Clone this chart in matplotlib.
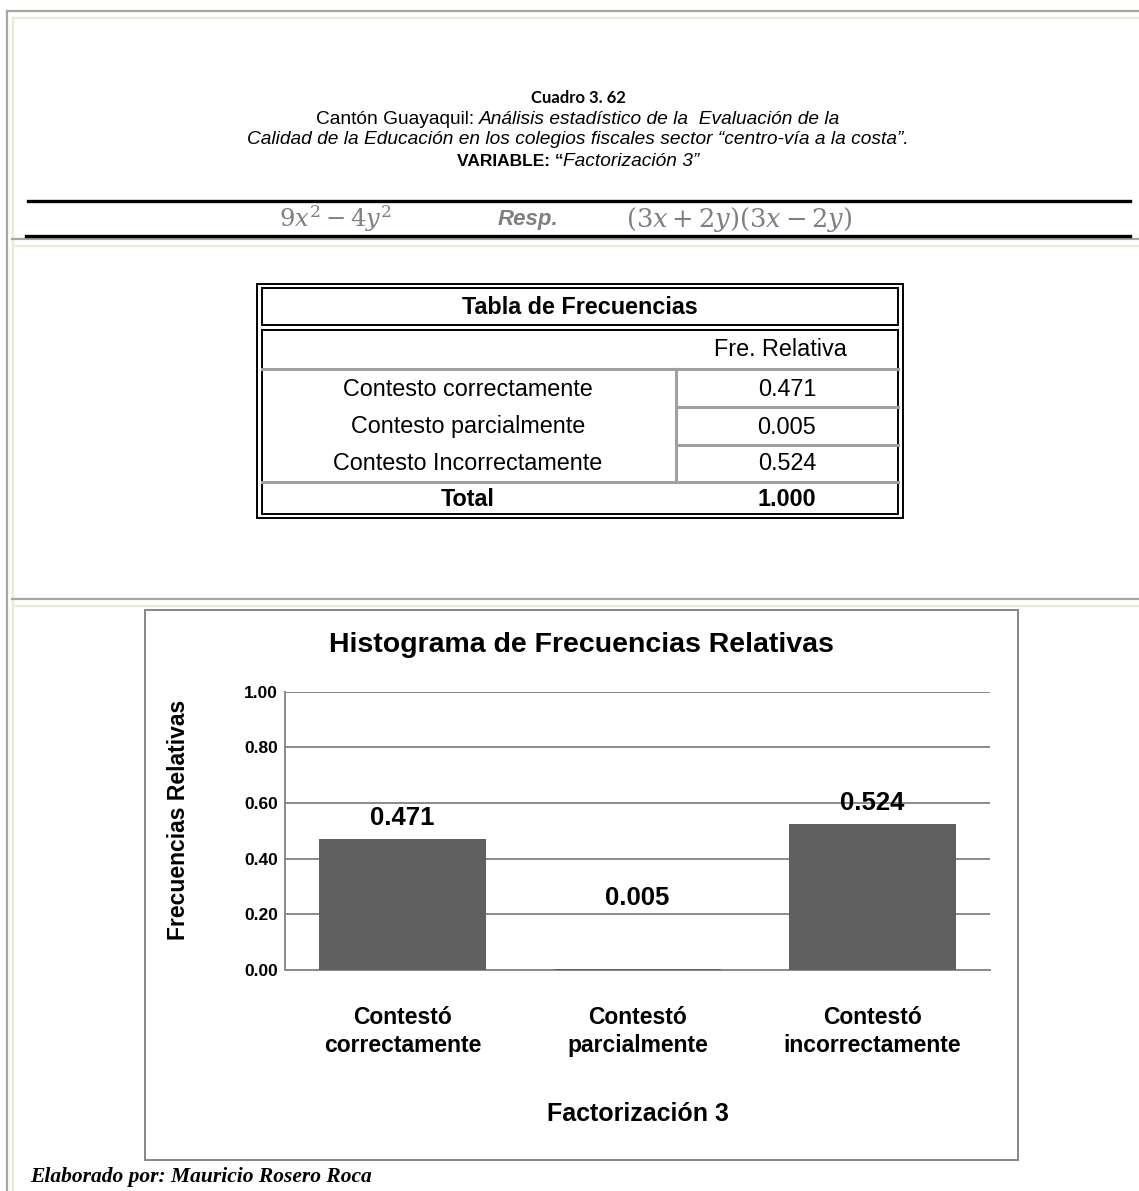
import matplotlib
matplotlib.use('Agg')
import matplotlib.pyplot as plt

# Data
categories = ['Contestó\ncorrectamente', 'Contestó\nparcialmente', 'Contestó\nincorrectamente']
values = [0.471, 0.005, 0.524]
table_labels = ['Contesto correctamente', 'Contesto parcialmente', 'Contesto Incorrectamente']
table_values = [0.471, 0.005, 0.524]
table_total = 1.000
y_ticks = [0.0, 0.2, 0.4, 0.6, 0.8, 1.0]

W, H = 1139, 1191
plt.rcParams['font.family'] = ['Liberation Sans', 'DejaVu Sans']
plt.rcParams['mathtext.fontset'] = 'dejavuserif'

fig = plt.figure(figsize=(W / 100, H / 100), dpi=100)
page = fig.add_axes([0, 0, 1, 1])
page.set_xlim(0, W)
page.set_ylim(H, 0)
page.axis('off')

FRAME_GRAY = '#a9a799'
FRAME_BEIGE = '#ece9d8'


def runs(x_center, y, parts, size):
    # draw a line made of several styled pieces, centred on x_center
    renderer = fig.canvas.get_renderer()
    texts = []
    for s, kw in parts:
        opts = {'fontsize': size, 'va': 'center', 'ha': 'left'}
        opts.update(kw)
        t = page.text(0, y, s, **opts)
        texts.append(t)
    widths = [t.get_window_extent(renderer).width for t in texts]
    x = x_center - sum(widths) / 2
    for t, w in zip(texts, widths):
        t.set_x(x)
        x += w


# page frame
page.plot([7, 7], [11, H], color=FRAME_GRAY, lw=1.6)
page.plot([7, W], [11, 11], color=FRAME_GRAY, lw=1.6)
page.plot([13, 13], [18, H], color=FRAME_BEIGE, lw=1.6)
for yy in (18, 246, 606):
    page.plot([13, W], [yy, yy], color=FRAME_BEIGE, lw=1.6)
for yy in (239, 599):
    page.plot([12, W], [yy, yy], color=FRAME_GRAY, lw=1.6)

# header texts
page.text(578, 98, 'Cuadro 3. 62', fontsize=12, fontweight='bold', family='Lato',
          ha='center', va='center')
runs(578, 119, [('Cantón Guayaquil: ', {}),
                ('Análisis estadístico de la  Evaluación de la', {'style': 'italic'})], 13.8)
runs(578, 140, [('Calidad de la Educación en los colegios fiscales sector “centro-vía a la costa”.',
                 {'style': 'italic'})], 13.8)
runs(578, 161, [('VARIABLE: “', {'fontweight': 'bold', 'fontsize': 12.5}),
                ('Factorización 3”', {'style': 'italic'})], 13.8)

page.plot([28, 1130], [201, 201], color='black', lw=2.4)
page.plot([26, 1130], [236, 236], color='black', lw=2.4)
FORM = '#7f7f7f'
page.text(335, 219, r'$9x^2-4y^2$', fontsize=17.5, color=FORM, ha='center', va='center')
page.text(528, 220, 'Resp.', fontsize=16, color=FORM, fontweight='bold', style='italic',
          ha='center', va='center')
page.text(739, 219, r'$(3x+2y)(3x-2y)$', fontsize=18.5, color=FORM, ha='center', va='center')

# frequency table
TL, TR = 257, 903
page.add_patch(plt.Rectangle((TL, 284), TR - TL, 234, fill=False, ec='black', lw=1.4))
page.add_patch(plt.Rectangle((TL + 5, 288), TR - TL - 10, 37, fill=False, ec='black', lw=1.4))
page.add_patch(plt.Rectangle((TL + 5, 330), TR - TL - 10, 184, fill=False, ec='black', lw=1.4))
TG = '#a0a0a0'
page.plot([TL + 5, TR - 5], [369, 369], color=TG, lw=2.2)
page.plot([TL + 5, TR - 5], [482, 482], color=TG, lw=2.2)
page.plot([676, 676], [369, 482], color=TG, lw=2.2)
page.plot([678, TR - 5], [407, 407], color=TG, lw=2.2)
page.plot([678, TR - 5], [445, 445], color=TG, lw=2.2)

TFS = 16.8
page.text(580, 307, 'Tabla de Frecuencias', fontsize=TFS, fontweight='bold', ha='center', va='center')
page.text(780, 350, 'Fre. Relativa', fontsize=TFS, ha='center', va='center')
row_y = [389, 427, 463]
for lab, val, yy in zip(table_labels, table_values, row_y):
    page.text(468, yy, lab, fontsize=TFS, ha='center', va='center')
    page.text(787, yy, f'{val:.3f}', fontsize=TFS, ha='center', va='center')
page.text(468, 500, 'Total', fontsize=TFS, fontweight='bold', ha='center', va='center')
page.text(787, 500, f'{table_total:.3f}', fontsize=TFS, fontweight='bold', ha='center', va='center')

# chart box
page.add_patch(plt.Rectangle((145, 610), 873, 550, fill=False, ec='#878787', lw=1.4))
page.text(581, 645, 'Histograma de Frecuencias Relativas', fontsize=20.5, fontweight='bold',
          ha='center', va='center')

ax = fig.add_axes([285 / W, 1 - 970 / H, 705 / W, 278.3 / H])
x = range(len(categories))
bars = ax.bar(x, values, width=0.71, color='#606060', zorder=3)
ax.set_xlim(-0.5, len(categories) - 0.5)
ax.set_ylim(0, 1.0)
ax.set_yticks(y_ticks)
ax.set_yticklabels([f'{t:.2f}' for t in y_ticks], fontsize=12.5, fontweight='bold')
ax.set_xticks(list(x))
ax.set_xticklabels(categories, fontsize=16.5, fontweight='bold', linespacing=1.25)
ax.tick_params(axis='y', length=0, pad=5)
ax.tick_params(axis='x', length=0, pad=26)
ax.yaxis.grid(True, color='#8a8a8a', lw=1.4, zorder=0)
for side in ('top', 'right'):
    ax.spines[side].set_visible(False)
for side in ('left', 'bottom'):
    ax.spines[side].set_color('#8a8a8a')
    ax.spines[side].set_linewidth(1.4)
ax.set_facecolor('none')
ax.set_xlabel('Factorización 3', fontsize=18, fontweight='bold', labelpad=33)
ax.set_ylabel('Frecuencias Relativas', fontsize=16.5, fontweight='bold')
ax.yaxis.set_label_coords(-0.135, 0.54)

label_offsets = [21, 71, 21]
for b, v, off in zip(bars, values, label_offsets):
    ax.annotate(f'{v:.3f}', (b.get_x() + b.get_width() / 2, v), xytext=(0, off),
                textcoords='offset pixels', ha='center', va='center',
                fontsize=18.5, fontweight='bold')

page.text(30, 1177, 'Elaborado por: Mauricio Rosero Roca', fontsize=15.5, fontweight='bold',
          style='italic', family='Liberation Serif', ha='left', va='center')

fig.savefig('out.png', dpi=100)
